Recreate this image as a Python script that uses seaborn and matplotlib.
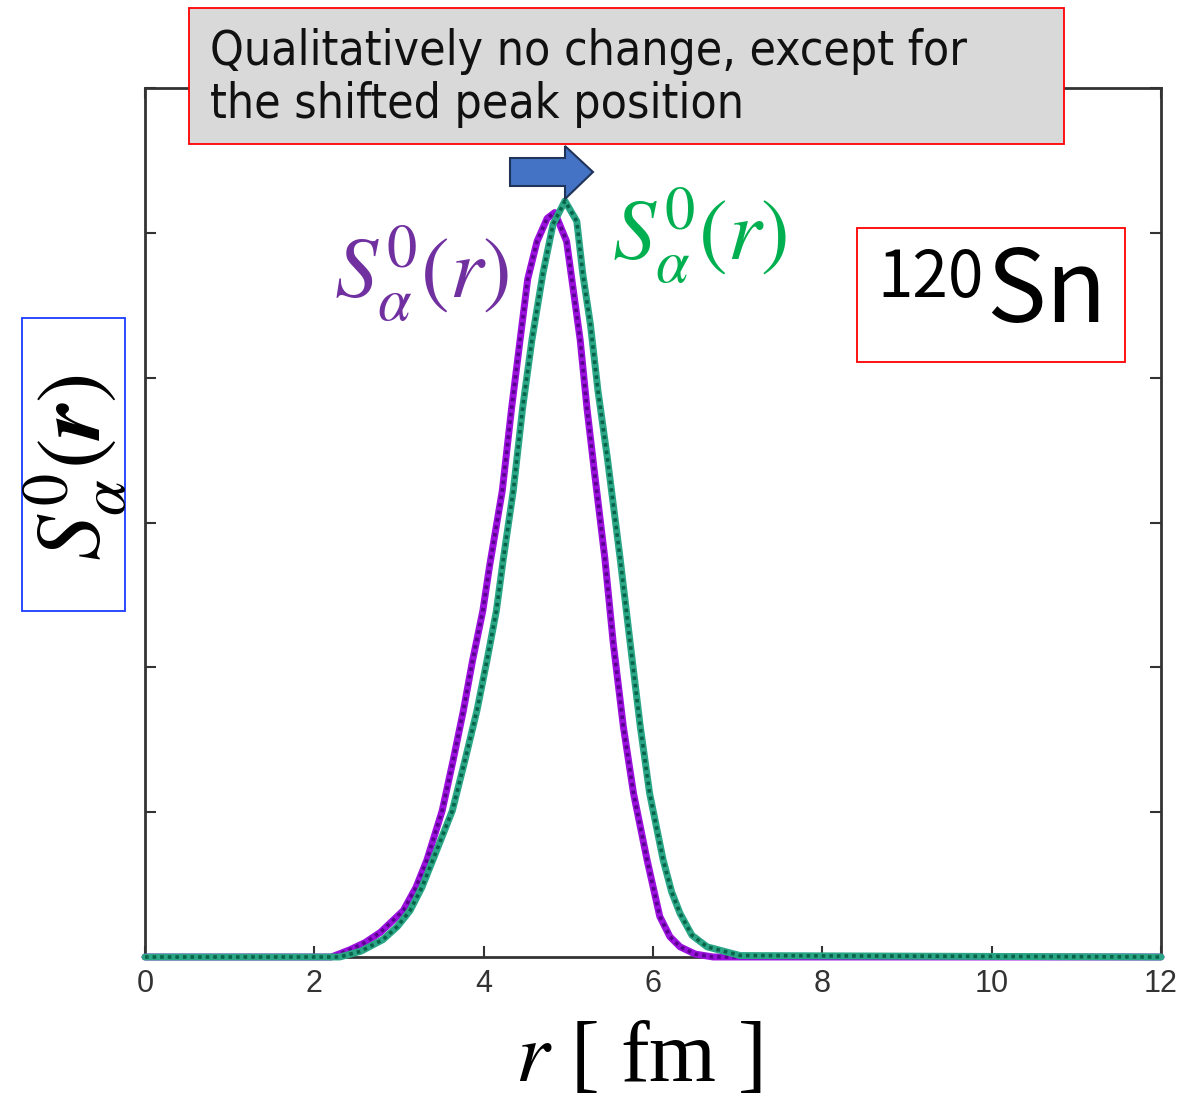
import numpy as np
import pandas as pd
import matplotlib
matplotlib.use("Agg")
import matplotlib.pyplot as plt
import seaborn as sns
from matplotlib.patches import Rectangle, Polygon

# ---- data ----
r_purple = [0, 2.2, 2.42, 2.6, 2.78, 3.05, 3.2, 3.33, 3.51, 3.64, 3.76, 3.87, 3.99, 4.07, 4.22, 4.33,
            4.43, 4.52, 4.63, 4.75, 4.84, 4.98, 5.06, 5.14, 5.22, 5.31, 5.43, 5.53, 5.65,
            5.77, 5.93, 6.08, 6.2, 6.32, 6.5, 6.71, 7.0, 12]
s_purple = [0, 0, 0.05, 0.10, 0.17, 0.32, 0.48, 0.67, 1.01, 1.36, 1.70, 2.05, 2.39, 2.70, 3.22, 3.79,
            4.26, 4.68, 4.94, 5.10, 5.14, 4.94, 4.60, 4.26, 3.79, 3.34, 2.76, 2.17, 1.59,
            1.13, 0.67, 0.28, 0.14, 0.07, 0.02, 0.0, 0, 0]
r_green = [0, 2.3, 2.55, 2.81, 2.98, 3.13, 3.27, 3.40, 3.63, 3.78, 3.92, 4.04, 4.15, 4.23, 4.35, 4.46,
           4.57, 4.70, 4.82, 4.96, 5.10, 5.17, 5.26, 5.35, 5.46, 5.61, 5.73, 5.85, 5.96,
           6.12, 6.22, 6.32, 6.46, 6.64, 7.03, 12]
s_green = [0, 0, 0.04, 0.12, 0.21, 0.32, 0.48, 0.67, 1.01, 1.36, 1.70, 2.05, 2.39, 2.74, 3.22, 3.79,
           4.26, 4.72, 5.06, 5.22, 5.08, 4.72, 4.37, 3.91, 3.45, 2.76, 2.17, 1.59, 1.13,
           0.67, 0.45, 0.30, 0.15, 0.07, 0.01, 0]
x_ticks = [0, 2, 4, 6, 8, 10, 12]
y_ticks = [0, 1, 2, 3, 4, 5, 6]

W, H = 1188, 1102
sns.set_theme(style="white")
plt.rcParams["mathtext.fontset"] = "stix"
plt.rcParams["font.family"] = ["DejaVu Sans"]

fig = plt.figure(figsize=(W / 100, H / 100), dpi=100)
fx = lambda px: px / W
fy = lambda py: 1 - py / H

ax = fig.add_axes([fx(145), fy(957), fx(1161) - fx(145), fy(88) - fy(957)])

dp = pd.DataFrame({"r": r_purple, "s": s_purple})
dg = pd.DataFrame({"r": r_green, "s": s_green})

sns.lineplot(data=dp, x="r", y="s", ax=ax, color="#9A10DC", lw=5, sort=False,
             clip_on=False, zorder=3)
sns.lineplot(data=dp, x="r", y="s", ax=ax, color="#5A008F", lw=2.6, sort=False,
             linestyle=(0, (1, 1.1)), clip_on=False, zorder=3.1)
sns.lineplot(data=dg, x="r", y="s", ax=ax, color="#2AA686", lw=5, sort=False,
             clip_on=False, zorder=4)
sns.lineplot(data=dg, x="r", y="s", ax=ax, color="#086448", lw=2.6, sort=False,
             linestyle=(0, (1, 1.1)), clip_on=False, zorder=4.1)

ax.set_xlim(0, 12)
ax.set_ylim(0, 6)
ax.set_xticks(x_ticks)
ax.set_xticklabels([str(t) for t in x_ticks], fontsize=22, color="#333333",
                   family=["Liberation Sans", "DejaVu Sans"])
ax.set_yticks(y_ticks)
ax.set_yticklabels([])
ax.tick_params(direction="in", length=8, width=1.5, color="#333333",
               top=True, right=True, bottom=True, left=True, pad=9)
for sp in ax.spines.values():
    sp.set_color("#333333")
    sp.set_linewidth(2)
ax.set_xlabel("")
ax.set_ylabel("")
ax.set_facecolor("white")

# x label
fig.text(fx(638), fy(1060), r"$r$ [ fm ]", fontsize=62, ha="center", va="center",
         family=["Liberation Serif", "DejaVu Serif"], color="black")

# y label with blue box
fig.add_artist(Rectangle((fx(22), fy(611)), fx(125) - fx(22), fy(318) - fy(611),
                         transform=fig.transFigure, fill=False, edgecolor="#1A3CFF", lw=1.3))
fig.text(fx(76), fy(468), r"$S^{0}_{\alpha}(\mathbfit{r})$", fontsize=66, rotation=90,
         ha="center", va="center", color="black")

# curve labels
fig.text(fx(422), fy(274), r"$S^{0}_{\alpha}(r)$", fontsize=62, ha="center", va="center",
         color="#7030A0")
fig.text(fx(700), fy(236), r"$S^{0}_{\alpha}(r)$", fontsize=62, ha="center", va="center",
         color="#00B050")

# 120Sn box
fig.add_artist(Rectangle((fx(857), fy(362)), fx(1125) - fx(857), fy(228) - fy(362),
                         transform=fig.transFigure, fill=False, edgecolor="#FF0000", lw=1.3))
fig.text(fx(984), fy(297), "120", fontsize=46, ha="right", va="baseline",
         family=["Noto Sans CJK JP", "DejaVu Sans"], color="black")
fig.text(fx(986), fy(322), "Sn", fontsize=72, ha="left", va="baseline",
         family=["Noto Sans CJK JP", "DejaVu Sans"], color="black")

# top annotation box
fig.add_artist(Rectangle((fx(189), fy(144)), fx(1064) - fx(189), fy(8) - fy(144),
                         transform=fig.transFigure, facecolor="#D9D9D9", edgecolor="#FF0000",
                         lw=1.3, zorder=5))
fig.text(fx(210), fy(65), "Qualitatively no change, except for", fontsize=34.5, ha="left",
         va="baseline", family=["DejaVu Sans"], fontstretch="condensed", color="#111111",
         zorder=6)
fig.text(fx(210), fy(118), "the shifted peak position", fontsize=34.5, ha="left",
         va="baseline", family=["DejaVu Sans"], fontstretch="condensed", color="#111111",
         zorder=6)

# blue block arrow
arrow_px = [(510, 158), (565, 158), (565, 146), (593, 172), (565, 199), (565, 186), (510, 186)]
fig.add_artist(Polygon([(fx(x), fy(y)) for x, y in arrow_px], closed=True,
                       transform=fig.transFigure, facecolor="#4472C4",
                       edgecolor="#1F3458", lw=1.5, zorder=6))

fig.savefig("out.png", dpi=100, facecolor="white")
